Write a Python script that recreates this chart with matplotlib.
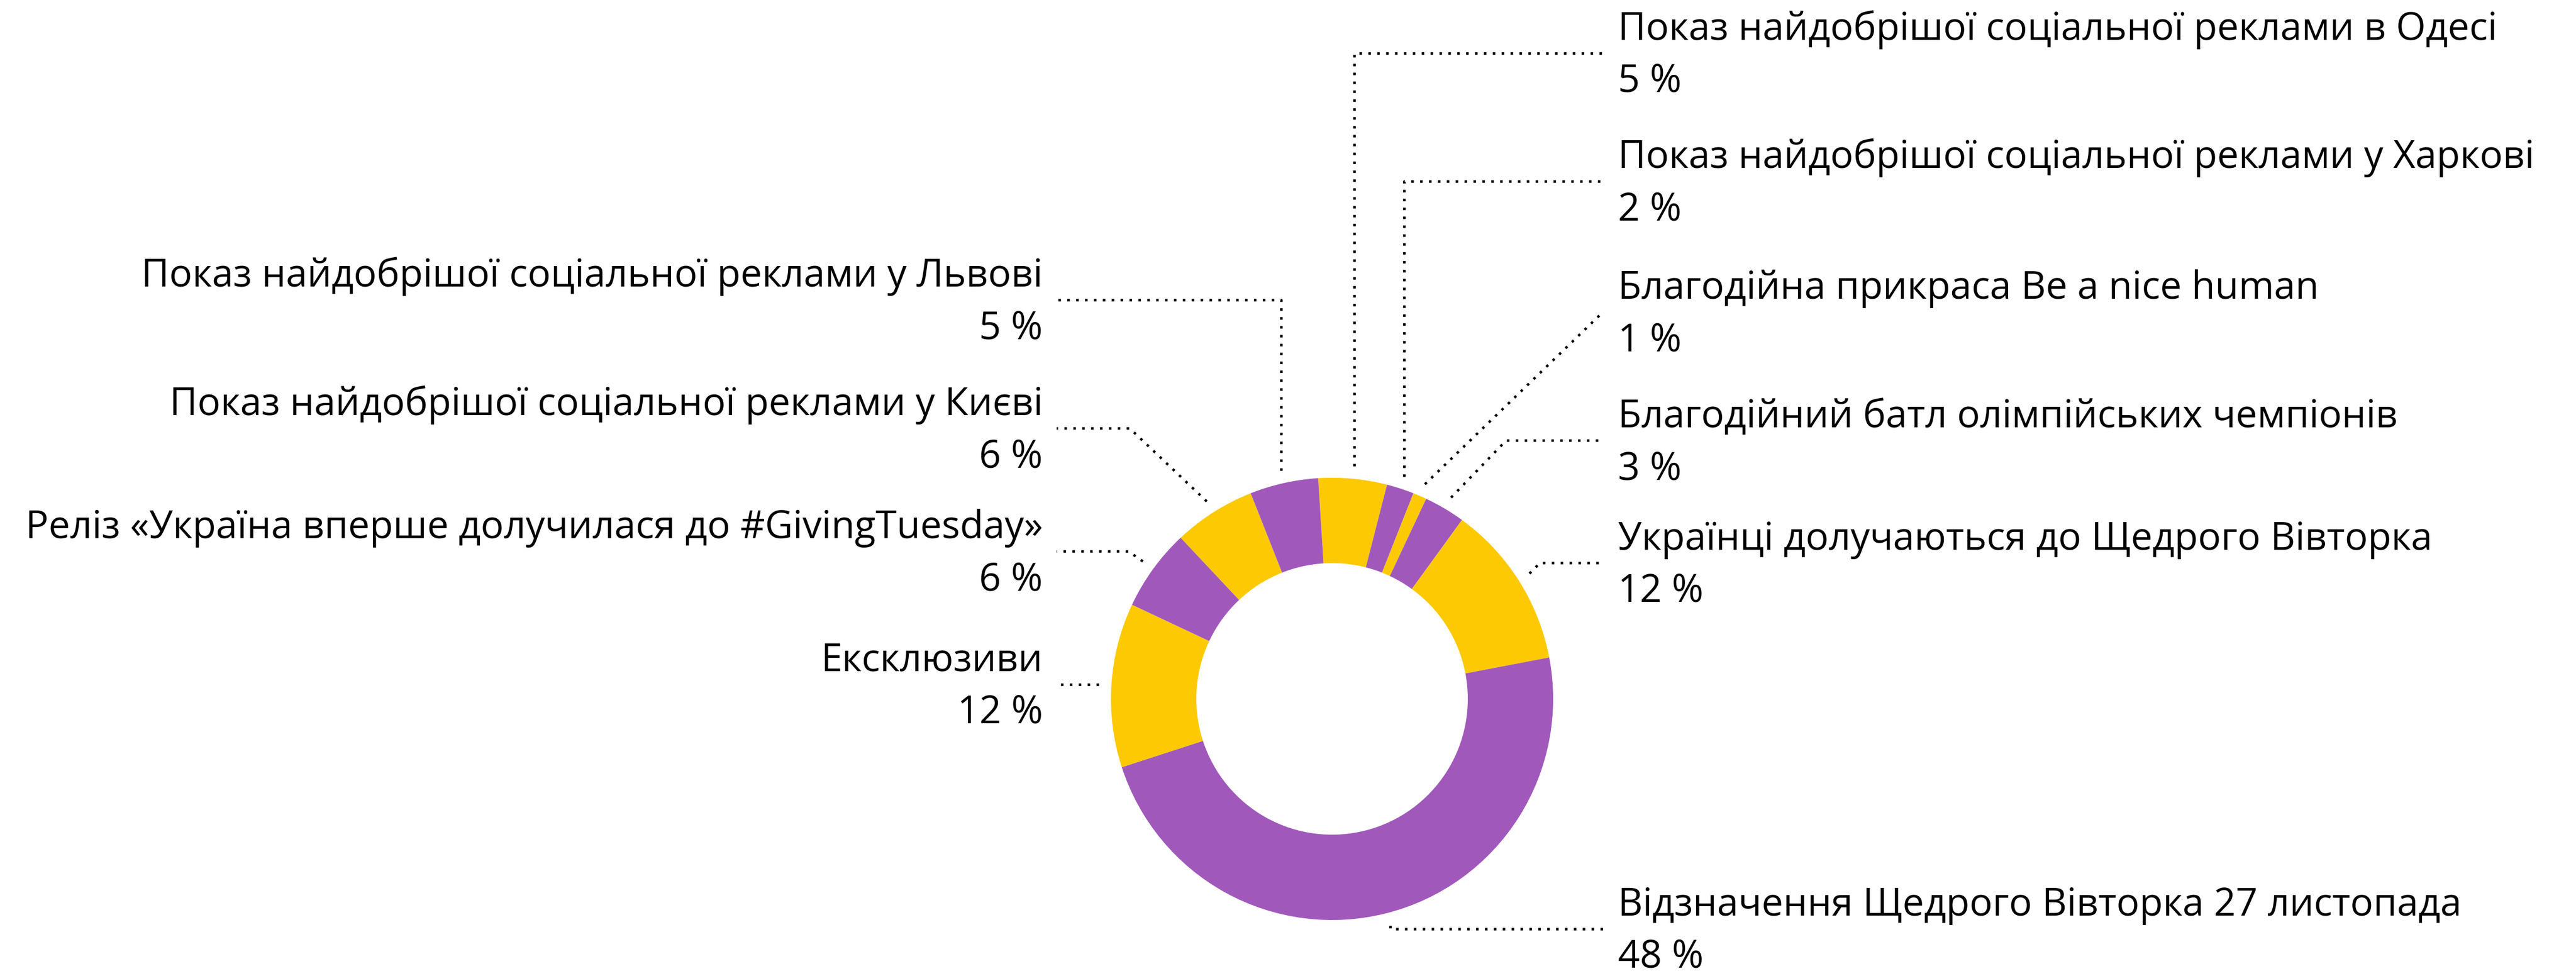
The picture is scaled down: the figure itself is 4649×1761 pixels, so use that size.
import numpy as np
import matplotlib
matplotlib.use("Agg")
import matplotlib.pyplot as plt

# ---------------- data ----------------
labels = [
    "Показ найдобрішої соціальної реклами в Одесі",
    "Показ найдобрішої соціальної реклами у Харкові",
    "Благодійна прикраса Be a nice human",
    "Благодійний батл олімпійських чемпіонів",
    "Українці долучаються до Щедрого Вівторка",
    "Відзначення Щедрого Вівторка 27 листопада",
    "Ексклюзиви",
    "Реліз «Україна вперше долучилася до #GivingTuesday»",
    "Показ найдобрішої соціальної реклами у Києві",
    "Показ найдобрішої соціальної реклами у Львові",
]
values = [5, 2, 1, 3, 12, 48, 12, 6, 6, 5]

# ---------------- style / layout ----------------
YELLOW = "#fdc903"
PURPLE = "#a059ba"
colors = [YELLOW, PURPLE] * 5

W, H = 4649, 1761
CX, CY = 2404, 1261          # donut centre (pixels, from top)
R_OUT, R_IN = 399, 245
R_ANCHOR = 422
START = 93.6

# label layout (pixels, from top)
side = ["R", "R", "R", "R", "R", "R", "L", "L", "L", "L"]
line_y = [96, 327, 563, 795, 1016, 1676, None, 995, 773, 541]
elbow_x = [None, None, "end", 2718, 2779, None, None, 2037, 2039, None]
END_R, END_L = 2893, 1907
TEXT_R, TEXT_L = 2920, 1882
NAME_DY, PCT_DY = -24, 70

FONT = ["Open Sans", "DejaVu Sans"]
FS = 49.8

fig = plt.figure(figsize=(W / 100, H / 100), dpi=100)
ax = fig.add_axes([0, 0, 1, 1])

def Y(y):
    return H - y

wedges, _ = ax.pie(values, colors=colors, startangle=START, counterclock=False,
                   radius=R_OUT, center=(CX, Y(CY)),
                   wedgeprops=dict(width=R_OUT - R_IN, linewidth=0))

ax.set_xlim(0, W)
ax.set_ylim(0, H)
ax.set_aspect("equal")
ax.axis("off")

line_kw = dict(color="black", lw=3.3, linestyle=(0, (1, 2.5)),
               dash_capstyle="butt", solid_capstyle="butt")

for i, w in enumerate(wedges):
    mid = np.deg2rad((w.theta1 + w.theta2) / 2)
    ax_x = CX + R_ANCHOR * np.cos(mid)
    ax_y = Y(CY) + R_ANCHOR * np.sin(mid)
    ly = Y(line_y[i]) if line_y[i] is not None else ax_y
    end = END_R if side[i] == "R" else END_L
    ex = elbow_x[i]
    if ex is None:
        ex = ax_x
    elif ex == "end":
        ex = end
    xs = [ax_x, ex, end]
    ys = [ax_y, ly, ly]
    ax.plot(xs, ys, **line_kw)

    if side[i] == "R":
        tx, ha = TEXT_R, "left"
    else:
        tx, ha = TEXT_L, "right"
    ax.text(tx, ly - NAME_DY, labels[i], ha=ha, va="baseline",
            fontsize=FS, family=FONT, color="black")
    ax.text(tx, ly - PCT_DY, f"{values[i]} %", ha=ha, va="baseline",
            fontsize=FS, family=FONT, color="black")

fig.savefig("out.png", dpi=100, facecolor="white")
